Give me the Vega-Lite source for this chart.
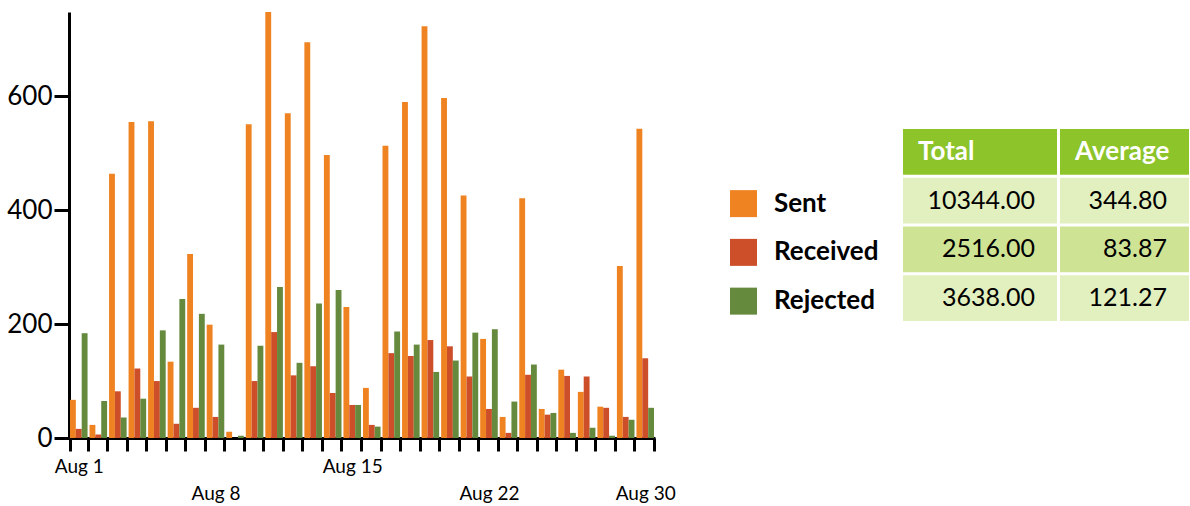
{
  "$schema": "https://vega.github.io/schema/vega-lite/v6.json",
  "background": "white",
  "padding": {"left": 6, "top": 12, "right": 0, "bottom": 0},
  "bounds": "flush",
  "spacing": 75,
  "config": {"view": {"stroke": null}, "font": "Lato"},
  "datasets": {
    "daily": [
      {"day": 1, "series": "Sent", "count": 67}, {"day": 1, "series": "Received", "count": 16}, {"day": 1, "series": "Rejected", "count": 184},
      {"day": 2, "series": "Sent", "count": 23}, {"day": 2, "series": "Received", "count": 6}, {"day": 2, "series": "Rejected", "count": 65},
      {"day": 3, "series": "Sent", "count": 464}, {"day": 3, "series": "Received", "count": 82}, {"day": 3, "series": "Rejected", "count": 36},
      {"day": 4, "series": "Sent", "count": 555}, {"day": 4, "series": "Received", "count": 122}, {"day": 4, "series": "Rejected", "count": 69},
      {"day": 5, "series": "Sent", "count": 556}, {"day": 5, "series": "Received", "count": 100}, {"day": 5, "series": "Rejected", "count": 189},
      {"day": 6, "series": "Sent", "count": 134}, {"day": 6, "series": "Received", "count": 25}, {"day": 6, "series": "Rejected", "count": 244},
      {"day": 7, "series": "Sent", "count": 323}, {"day": 7, "series": "Received", "count": 53}, {"day": 7, "series": "Rejected", "count": 218},
      {"day": 8, "series": "Sent", "count": 199}, {"day": 8, "series": "Received", "count": 37}, {"day": 8, "series": "Rejected", "count": 164},
      {"day": 9, "series": "Sent", "count": 11}, {"day": 9, "series": "Received", "count": 0}, {"day": 9, "series": "Rejected", "count": 4},
      {"day": 10, "series": "Sent", "count": 551}, {"day": 10, "series": "Received", "count": 100}, {"day": 10, "series": "Rejected", "count": 162},
      {"day": 11, "series": "Sent", "count": 748}, {"day": 11, "series": "Received", "count": 186}, {"day": 11, "series": "Rejected", "count": 265},
      {"day": 12, "series": "Sent", "count": 570}, {"day": 12, "series": "Received", "count": 110}, {"day": 12, "series": "Rejected", "count": 132},
      {"day": 13, "series": "Sent", "count": 695}, {"day": 13, "series": "Received", "count": 126}, {"day": 13, "series": "Rejected", "count": 236},
      {"day": 14, "series": "Sent", "count": 497}, {"day": 14, "series": "Received", "count": 79}, {"day": 14, "series": "Rejected", "count": 260},
      {"day": 15, "series": "Sent", "count": 230}, {"day": 15, "series": "Received", "count": 58}, {"day": 15, "series": "Rejected", "count": 58},
      {"day": 16, "series": "Sent", "count": 88}, {"day": 16, "series": "Received", "count": 23}, {"day": 16, "series": "Rejected", "count": 20},
      {"day": 17, "series": "Sent", "count": 513}, {"day": 17, "series": "Received", "count": 149}, {"day": 17, "series": "Rejected", "count": 187},
      {"day": 18, "series": "Sent", "count": 590}, {"day": 18, "series": "Received", "count": 144}, {"day": 18, "series": "Rejected", "count": 164},
      {"day": 19, "series": "Sent", "count": 723}, {"day": 19, "series": "Received", "count": 172}, {"day": 19, "series": "Rejected", "count": 116},
      {"day": 20, "series": "Sent", "count": 597}, {"day": 20, "series": "Received", "count": 161}, {"day": 20, "series": "Rejected", "count": 136},
      {"day": 21, "series": "Sent", "count": 426}, {"day": 21, "series": "Received", "count": 108}, {"day": 21, "series": "Rejected", "count": 185},
      {"day": 22, "series": "Sent", "count": 174}, {"day": 22, "series": "Received", "count": 51}, {"day": 22, "series": "Rejected", "count": 191},
      {"day": 23, "series": "Sent", "count": 37}, {"day": 23, "series": "Received", "count": 9}, {"day": 23, "series": "Rejected", "count": 64},
      {"day": 24, "series": "Sent", "count": 421}, {"day": 24, "series": "Received", "count": 111}, {"day": 24, "series": "Rejected", "count": 129},
      {"day": 25, "series": "Sent", "count": 51}, {"day": 25, "series": "Received", "count": 41}, {"day": 25, "series": "Rejected", "count": 44},
      {"day": 26, "series": "Sent", "count": 120}, {"day": 26, "series": "Received", "count": 109}, {"day": 26, "series": "Rejected", "count": 9},
      {"day": 27, "series": "Sent", "count": 81}, {"day": 27, "series": "Received", "count": 108}, {"day": 27, "series": "Rejected", "count": 18},
      {"day": 28, "series": "Sent", "count": 55}, {"day": 28, "series": "Received", "count": 53}, {"day": 28, "series": "Rejected", "count": 4},
      {"day": 29, "series": "Sent", "count": 302}, {"day": 29, "series": "Received", "count": 37}, {"day": 29, "series": "Rejected", "count": 32},
      {"day": 30, "series": "Sent", "count": 543}, {"day": 30, "series": "Received", "count": 140}, {"day": 30, "series": "Rejected", "count": 53}
    ],
    "legend": [{"series": "Sent"}, {"series": "Received"}, {"series": "Rejected"}],
    "cells": [
      {"row": "header", "col": "Total", "text": "Total"},
      {"row": "header", "col": "Average", "text": "Average"},
      {"row": "Sent", "col": "Total", "value": 10344},
      {"row": "Sent", "col": "Average", "value": 344.8},
      {"row": "Received", "col": "Total", "value": 2516},
      {"row": "Received", "col": "Average", "value": 83.87},
      {"row": "Rejected", "col": "Total", "value": 3638},
      {"row": "Rejected", "col": "Average", "value": 121.27}
    ]
  },
  "hconcat": [
    {
      "width": 586,
      "height": 426,
      "data": {"name": "daily"},
      "mark": {"type": "bar"},
      "encoding": {
        "x": {
          "field": "day", "type": "ordinal",
          "scale": {"paddingInner": 0.1, "paddingOuter": 0.05},
          "axis": {
            "title": null, "tickBand": "extent", "labelAngle": 0,
            "domainWidth": 3, "domainColor": "black", "tickWidth": 3, "tickColor": "black", "tickSize": 13,
            "labelFontSize": 19, "labelColor": "black", "labelPadding": 6, "labelLineHeight": 27, "labelOverlap": false,
            "labelExpr": "indexof([8,22,30], datum.value) >= 0 ? ['', 'Aug ' + datum.value] : (indexof([1,15], datum.value) >= 0 ? 'Aug ' + datum.value : '')"
          }
        },
        "xOffset": {"field": "series", "type": "nominal", "scale": {"domain": ["Sent", "Received", "Rejected"]}},
        "y": {
          "field": "count", "type": "quantitative",
          "scale": {"domain": [0, 748], "nice": false},
          "axis": {
            "title": null, "values": [0, 200, 400, 600], "grid": false,
            "domainWidth": 3, "domainColor": "black", "tickWidth": 3, "tickColor": "black", "tickSize": 15,
            "labelFontSize": 26, "labelColor": "black", "labelPadding": 2
          }
        },
        "color": {
          "field": "series", "type": "nominal",
          "scale": {"domain": ["Sent", "Received", "Rejected"], "range": ["#EF8322", "#CC4F2A", "#658A3E"]},
          "legend": null
        }
      }
    },
    {
      "width": 459,
      "height": 426,
      "resolve": {"scale": {"x": "independent"}},
      "layer": [
        {
          "data": {"name": "legend"},
          "encoding": {
            "x": {"datum": "swatch", "type": "nominal", "scale": {"domain": ["swatch"], "range": [0, 27], "paddingInner": 0, "paddingOuter": 0}, "axis": null},
            "y": {"field": "series", "type": "nominal", "scale": {"domain": ["header", "Sent", "Received", "Rejected"], "range": [117, 309], "paddingInner": 0.062, "paddingOuter": 0}, "axis": null}
          },
          "layer": [
            {"mark": {"type": "square", "size": 729, "opacity": 1, "filled": true, "yOffset": 3}, "encoding": {"color": {"field": "series", "type": "nominal", "legend": null}}},
            {"mark": {"type": "text", "align": "left", "baseline": "middle", "dx": 30.5, "dy": 3, "fontSize": 26, "fontWeight": "bold", "color": "black"}, "encoding": {"text": {"field": "series"}}}
          ]
        },
        {
          "data": {"name": "cells"},
          "transform": [{"filter": "datum.col == 'Total'"}],
          "encoding": {
            "x": {"field": "col", "type": "nominal", "scale": {"domain": ["Total"], "range": [173, 327], "paddingInner": 0, "paddingOuter": 0}, "axis": null},
            "y": {"field": "row", "type": "nominal", "scale": {"domain": ["header", "Sent", "Received", "Rejected"], "range": [117, 309], "paddingInner": 0.062, "paddingOuter": 0}, "axis": null}
          },
          "layer": [
            {"mark": {"type": "rect"}, "encoding": {"fill": {"field": "row", "type": "nominal", "scale": {"domain": ["header", "Sent", "Received", "Rejected"], "range": ["#8CC429", "#E2EFBE", "#CFE394", "#E2EFBE"]}, "legend": null}}},
            {"transform": [{"filter": "datum.row == 'header'"}], "mark": {"type": "text", "align": "left", "baseline": "middle", "dx": 15, "fontSize": 26, "fontWeight": "bold", "color": "white"}, "encoding": {"x": {"field": "col", "type": "nominal", "bandPosition": 0}, "text": {"field": "text"}}},
            {"transform": [{"filter": "datum.row != 'header'"}], "mark": {"type": "text", "align": "right", "baseline": "middle", "dx": -22, "fontSize": 25, "color": "black"}, "encoding": {"x": {"field": "col", "type": "nominal", "bandPosition": 1}, "text": {"field": "value", "type": "quantitative", "format": ".2f"}}}
          ]
        },
        {
          "data": {"name": "cells"},
          "transform": [{"filter": "datum.col == 'Average'"}],
          "encoding": {
            "x": {"field": "col", "type": "nominal", "scale": {"domain": ["Average"], "range": [330, 459], "paddingInner": 0, "paddingOuter": 0}, "axis": null},
            "y": {"field": "row", "type": "nominal", "scale": {"domain": ["header", "Sent", "Received", "Rejected"], "range": [117, 309], "paddingInner": 0.062, "paddingOuter": 0}, "axis": null}
          },
          "layer": [
            {"mark": {"type": "rect"}, "encoding": {"fill": {"field": "row", "type": "nominal", "scale": {"domain": ["header", "Sent", "Received", "Rejected"], "range": ["#8CC429", "#E2EFBE", "#CFE394", "#E2EFBE"]}, "legend": null}}},
            {"transform": [{"filter": "datum.row == 'header'"}], "mark": {"type": "text", "align": "left", "baseline": "middle", "dx": 15, "fontSize": 26, "fontWeight": "bold", "color": "white"}, "encoding": {"x": {"field": "col", "type": "nominal", "bandPosition": 0}, "text": {"field": "text"}}},
            {"transform": [{"filter": "datum.row != 'header'"}], "mark": {"type": "text", "align": "right", "baseline": "middle", "dx": -22, "fontSize": 25, "color": "black"}, "encoding": {"x": {"field": "col", "type": "nominal", "bandPosition": 1}, "text": {"field": "value", "type": "quantitative", "format": ".2f"}}}
          ]
        }
      ]
    }
  ]
}
